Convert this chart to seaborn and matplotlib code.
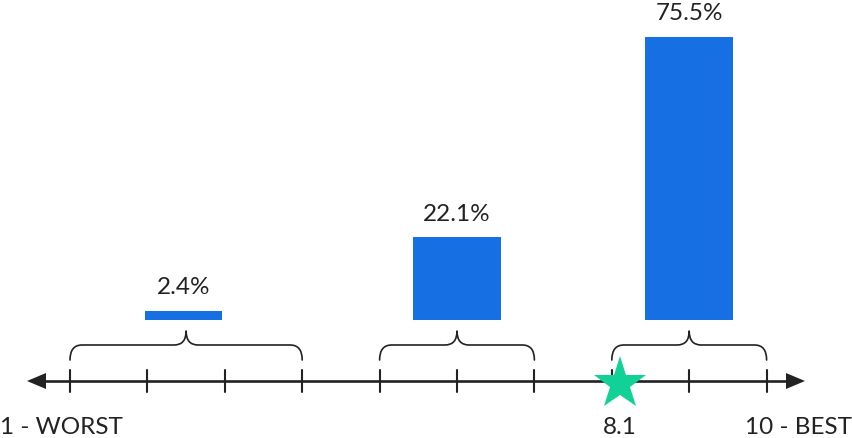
import numpy as np
import pandas as pd
import seaborn as sns
import matplotlib.pyplot as plt
from matplotlib.path import Path
from matplotlib.patches import PathPatch

# Rating scale and the share of answers falling in each group of scores
scale_points = list(range(1, 11))
group_ranges = [(1, 4), (5, 7), (8, 10)]
group_shares = [2.4, 22.1, 75.5]
share_labels = ["2.4%", "22.1%", "75.5%"]
bar_centers = [2.47, 6, 9]
bar_widths = [1.0, 1.14, 1.14]
score = 8.1
score_label = "8.1"
end_labels = ["1 - WORST", "10 - BEST"]

BLUE = "#166fe3"
GREEN = "#12d196"
DARK = "#222222"
FS = 17.5

sns.set_theme(style="white")
plt.rcParams["font.family"] = ["Lato", "DejaVu Sans"]

W, H = 853, 438
fig = plt.figure(figsize=(W / 100, H / 100), dpi=100)
ax = fig.add_axes([0, 0, 1, 1])

# layout helpers: pixels per scale step and per percentage point
PXU = 77.4
PXP = 3.75
X0_PX = 70      # pixel column of scale point 1
BASE_PX = 320   # pixel row of the bar baseline


def xpx(p):
    return 1 + (p - X0_PX) / PXU


def ypx(p):
    return (BASE_PX - p) / PXP


def dx(p):
    return p / PXU


def dy(p):
    return p / PXP


df = pd.DataFrame({"pos": bar_centers, "share": group_shares})
sns.barplot(data=df, x="pos", y="share", native_scale=True,
            width=0.35, color=BLUE, saturation=1,
            errorbar=None, linewidth=0, ax=ax)
for patch, c, w in zip(ax.patches, bar_centers, bar_widths):
    patch.set_x(c - w / 2)
    patch.set_width(w)

for c, v, lab in zip(bar_centers, group_shares, share_labels):
    ax.annotate(lab, (c, v), xytext=(0, 9), textcoords="offset points",
                ha="center", va="bottom", fontsize=FS, color=DARK)

# number line
y_axis = ypx(381)
left_tip, right_tip = xpx(27), xpx(805)
head = dx(19)
ax.plot([left_tip + head * 0.8, right_tip - head * 0.8], [y_axis, y_axis],
        color=DARK, lw=1.9, solid_capstyle="butt", zorder=3)
hh = dy(8)
ax.fill([left_tip, left_tip + head, left_tip + head],
        [y_axis, y_axis + hh, y_axis - hh], color=DARK, lw=0, zorder=3)
ax.fill([right_tip, right_tip - head, right_tip - head],
        [y_axis, y_axis + hh, y_axis - hh], color=DARK, lw=0, zorder=3)
for p in scale_points:
    ax.plot([p, p], [y_axis - dy(11), y_axis + dy(11)], color=DARK,
            lw=1.5, zorder=3)


# curly braces over each group of scores
def brace(x0, x1):
    ye, yh, yc = ypx(360), ypx(345), ypx(331)
    r = dx(12)
    m = (x0 + x1) / 2
    verts = [(x0, ye), (x0, yh), (x0 + r, yh),
             (m - r, yh), (m, yh), (m, yc),
             (m, yh), (m + r, yh),
             (x1 - r, yh), (x1, yh), (x1, ye)]
    codes = [Path.MOVETO, Path.CURVE3, Path.CURVE3,
             Path.LINETO, Path.CURVE3, Path.CURVE3,
             Path.CURVE3, Path.CURVE3,
             Path.LINETO, Path.CURVE3, Path.CURVE3]
    ax.add_patch(PathPatch(Path(verts, codes), fill=False, ec=DARK,
                           lw=1.2, capstyle="round", joinstyle="round"))


for a, b in group_ranges:
    brace(a, b)

# average score marker
ax.plot([score], [y_axis - dy(3)], marker="*", ms=40, color=GREEN,
        mec=GREEN, mew=0, zorder=5)

y_lab = ypx(427)
ax.text(score, y_lab, score_label, ha="center", va="center",
        fontsize=FS, color=DARK)
ax.text(xpx(0), y_lab, end_labels[0], ha="left", va="center",
        fontsize=FS, color=DARK)
ax.text(xpx(852), y_lab, end_labels[1], ha="right", va="center",
        fontsize=FS, color=DARK)

ax.set_xlim(xpx(0), xpx(W))
ax.set_ylim(ypx(H), ypx(0))
ax.axis("off")

fig.savefig("out.png", dpi=100)
